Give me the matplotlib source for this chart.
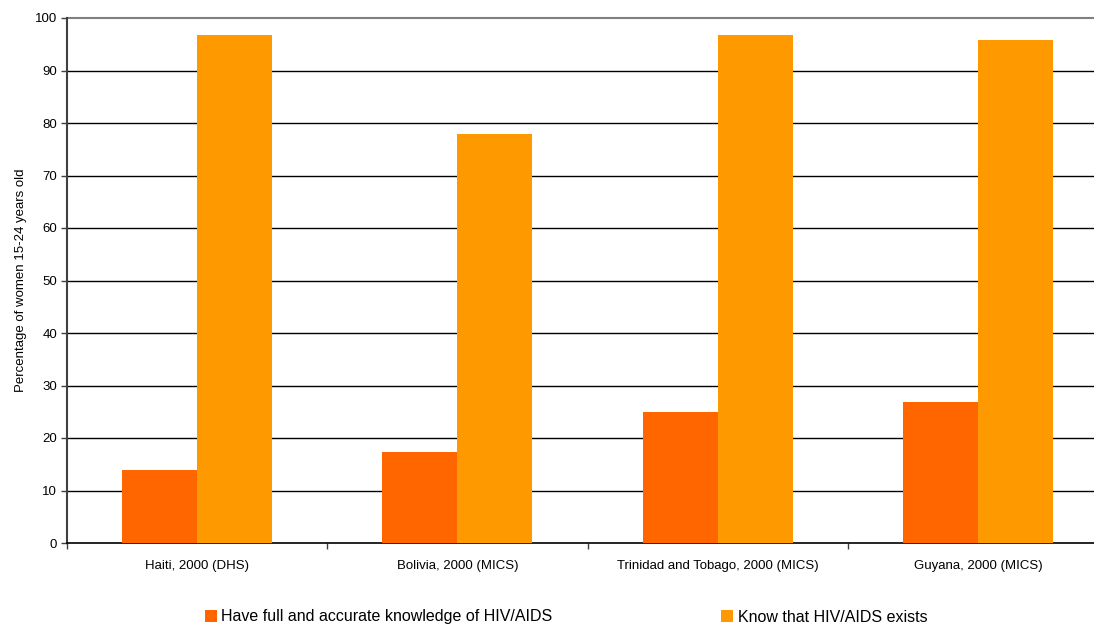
import matplotlib
matplotlib.use("Agg")
import matplotlib.pyplot as plt
import numpy as np

plt.rcParams['font.family'] = ['Liberation Sans', 'DejaVu Sans']

categories = ["Haiti, 2000 (DHS)", "Bolivia, 2000 (MICS)",
              "Trinidad and Tobago, 2000 (MICS)", "Guyana, 2000 (MICS)"]
full_knowledge = [14, 17.3, 25, 26.9]
know_exists = [96.8, 77.9, 96.8, 95.9]
series_names = ["Have full and accurate knowledge of HIV/AIDS", "Know that HIV/AIDS exists"]
yticks = list(range(0, 101, 10))

fig = plt.figure(figsize=(10.94, 6.25), dpi=100)
ax = fig.add_axes([67/1094, 82/625, 1041/1094, 525/625])

x = np.arange(len(categories))
w = 0.288
b1 = ax.bar(x - w/2, full_knowledge, w, color="#FF6600", label=series_names[0], zorder=3)
b2 = ax.bar(x + w/2, know_exists, w, color="#FF9900", label=series_names[1], zorder=3)

ax.set_ylim(0, 100)
ax.set_xlim(-0.5, 3.5)
ax.set_yticks(yticks)
for yv in yticks[1:-1]:
    ax.axhline(yv, color="black", lw=1.0, zorder=1)
ax.axhline(100, color="#808080", lw=1.5, zorder=1, clip_on=False)

ax.set_xticks(x)
ax.set_xticklabels(categories, fontsize=9.5)
ax.set_xticks(np.arange(-0.5, 4.0, 1.0), minor=True)
ax.tick_params(axis='x', which='major', length=0, pad=12)
ax.tick_params(axis='x', which='minor', length=4, width=1, color="#404040", direction='out')
ax.tick_params(axis='y', length=4, width=1, color="#404040", labelsize=9.5, pad=3)

for s in ['top', 'right']:
    ax.spines[s].set_visible(False)
ax.spines['left'].set_color("#404040")
ax.spines['left'].set_linewidth(1.5)
ax.spines['bottom'].set_color("black")
ax.spines['bottom'].set_linewidth(1.2)

ax.set_ylabel("Percentage of women 15-24 years old", fontsize=9.5, labelpad=6)

fig.legend(handles=[b1, b2], labels=series_names, loc='center',
           bbox_to_anchor=(566/1094, 8/625), ncol=2, frameon=False,
           fontsize=11.5, handlelength=0.75, handleheight=0.75, handletextpad=0.3,
           columnspacing=10.55, borderaxespad=0, borderpad=0)

fig.savefig("out.png", dpi=100)
